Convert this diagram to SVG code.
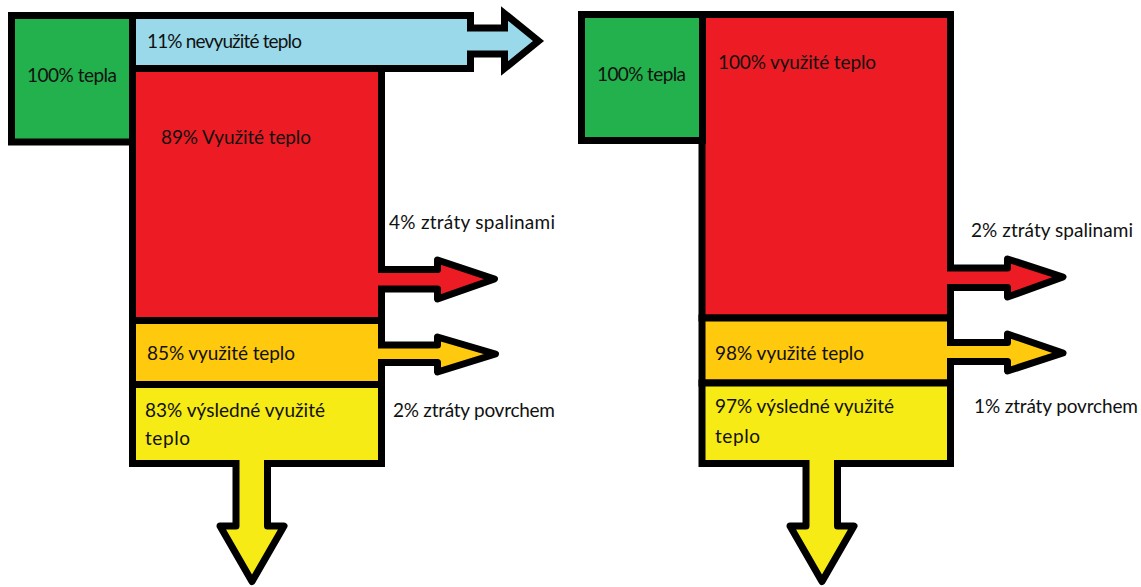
<svg xmlns="http://www.w3.org/2000/svg" width="1141" height="587" viewBox="0 0 1141 587">
<style>
.box{stroke:#000;stroke-width:7;stroke-linejoin:miter}
.arr{stroke:#000;stroke-width:7;stroke-linejoin:round}
.g{fill:#22B14C}.b{fill:#99D9EA}.r{fill:#ED1C24}.o{fill:#FFC90E}.y{fill:#F6EB14}
text{font-family:Lato,"Open Sans","Liberation Sans",sans-serif;font-size:19px;fill:#111}
</style>
<rect width="1141" height="587" fill="#fff"/>
<g id="left">
  <g id="l-unused"><polygon class="box b" points="132.5,15.5 470.5,15.5 470.5,28 504.5,28 504.5,13.5 538.5,41 504.5,68.5 504.5,54 470.5,54 470.5,68.5 132.5,68.5"/>
    <text x="147" y="48" textLength="155">11% nevyužité teplo</text></g>
  <g id="l-used89"><rect class="box r" x="132.5" y="68.5" width="249" height="252"/>
    <text x="161" y="144" textLength="150">89% Využité teplo</text></g>
  <g id="l-used85"><rect class="box o" x="132.5" y="320.5" width="249" height="64"/>
    <text x="147" y="360" textLength="148">85% využité teplo</text></g>
  <g id="l-used83"><rect class="box y" x="132.5" y="384.5" width="249" height="79"/>
    <text x="145" y="417" textLength="180">83% výsledné využité</text>
    <text x="145" y="445" textLength="45">teplo</text></g>
  <g id="l-heat"><rect class="box g" x="11.5" y="15.5" width="121" height="126.5"/>
    <text x="27" y="82" textLength="90">100% tepla</text></g>
  <g id="l-flue"><text x="389" y="229" textLength="166">4% ztráty spalinami</text></g>
  <g id="l-surface"><text x="393" y="417" textLength="162">2% ztráty povrchem</text></g>
</g>
<g id="right">
  <g id="r-used100"><rect class="box r" x="702" y="14.5" width="248.5" height="303.5"/>
    <text x="718" y="69" textLength="158">100% využité teplo</text></g>
  <g id="r-used98"><rect class="box o" x="702" y="318" width="248.5" height="65"/>
    <text x="715" y="360" textLength="149">98% využité teplo</text></g>
  <g id="r-used97"><rect class="box y" x="702" y="383" width="248.5" height="80.5"/>
    <text x="715" y="413" textLength="179">97% výsledné využité</text>
    <text x="715" y="443" textLength="45">teplo</text></g>
  <g id="r-heat"><rect class="box g" x="581.5" y="14.5" width="121" height="126"/>
    <text x="597" y="81" textLength="89">100% tepla</text></g>
  <g id="r-flue"><text x="971" y="237" textLength="162">2% ztráty spalinami</text></g>
  <g id="r-surface"><text x="974" y="413" textLength="164">1% ztráty povrchem</text></g>
</g>
<g id="connectors">
  <path class="arr r" d="M378,269.5 H437.5 V260 L494.5,279 L437.5,299 V289 H378"/>
  <path class="arr o" d="M378,345 H437.5 V337 L495.5,354 L437.5,372 V362.5 H378"/>
  <path class="arr y" d="M236,460 V526 H220 L252,581.5 L284,526 H267.5 V460"/>
  <path class="arr r" d="M947,268 H1007.5 V259 L1063,277 L1007.5,297 V287.5 H947"/>
  <path class="arr o" d="M947,342.5 H1007.5 V334 L1063,353 L1007.5,371 V361.5 H947"/>
  <path class="arr y" d="M806,460 V526 H790 L822,581.5 L854,526 H837.5 V460"/>
</g>
</svg>
